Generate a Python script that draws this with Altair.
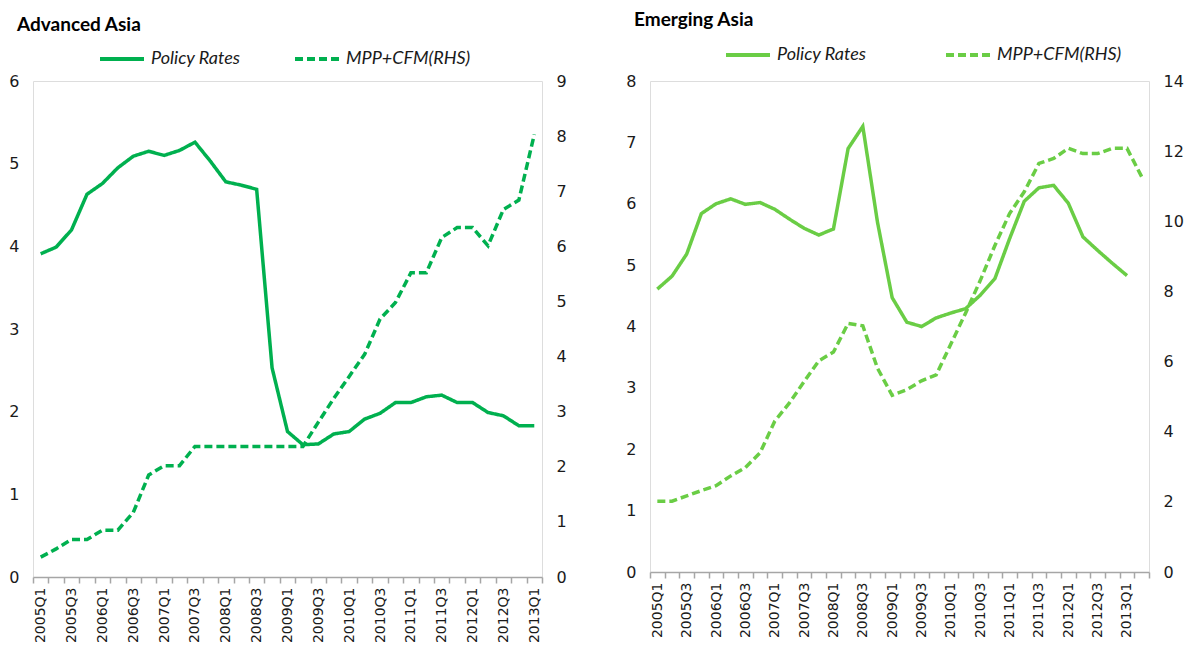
import altair as alt
import pandas as pd

# ---------------- data ----------------
quarters_adv = ["2005Q1","2005Q2","2005Q3","2005Q4","2006Q1","2006Q2","2006Q3","2006Q4",
                "2007Q1","2007Q2","2007Q3","2007Q4","2008Q1","2008Q2","2008Q3","2008Q4",
                "2009Q1","2009Q2","2009Q3","2009Q4","2010Q1","2010Q2","2010Q3","2010Q4",
                "2011Q1","2011Q2","2011Q3","2011Q4","2012Q1","2012Q2","2012Q3","2012Q4",
                "2013Q1"]
quarters_em = quarters_adv + ["2013Q2"]

adv_policy = [3.91, 3.99, 4.20, 4.63, 4.76, 4.95, 5.09, 5.15, 5.10, 5.16, 5.26, 5.03,
              4.78, 4.74, 4.69, 2.53, 1.76, 1.60, 1.61, 1.73, 1.76, 1.91, 1.98, 2.11,
              2.11, 2.18, 2.20, 2.11, 2.11, 1.99, 1.95, 1.83, 1.83]
adv_mpp = [0.36, 0.51, 0.68, 0.68, 0.85, 0.85, 1.17, 1.85, 2.02, 2.02, 2.37, 2.37,
           2.37, 2.37, 2.37, 2.37, 2.37, 2.37, 2.81, 3.24, 3.64, 4.04, 4.68, 4.98,
           5.52, 5.52, 6.16, 6.34, 6.34, 6.01, 6.67, 6.84, 8.03]

em_policy = [4.61, 4.82, 5.18, 5.84, 6.00, 6.08, 5.99, 6.02, 5.91, 5.75, 5.60, 5.49,
             5.59, 6.90, 7.26, 5.70, 4.47, 4.07, 4.00, 4.14, 4.22, 4.29, 4.51, 4.78,
             5.43, 6.04, 6.26, 6.30, 6.01, 5.46, 5.24, 5.03, 4.83]
em_mpp = [2.02, 2.02, 2.17, 2.32, 2.46, 2.74, 2.98, 3.40, 4.30, 4.82, 5.43, 6.02,
          6.27, 7.09, 7.02, 5.81, 5.04, 5.20, 5.45, 5.62, 6.50, 7.38, 8.31, 9.31,
          10.22, 10.84, 11.65, 11.79, 12.08, 11.93, 11.93, 12.08, 12.08, 11.27]

series_names = ["Policy Rates", "MPP+CFM(RHS)"]

TICK_FONT = "DejaVu Sans"
TEXT_FONT = "Lato"


def make_df(quarters, policy, mpp):
    rows = []
    for q, v in zip(quarters, policy):
        rows.append({"q": q, "series": series_names[0], "value": v})
    for q, v in zip(quarters, mpp):
        rows.append({"q": q, "series": series_names[1], "value": v})
    return pd.DataFrame(rows)


def panel(title, title_offset, quarters, policy, mpp, color, left_max, left_vals,
          right_max, right_vals, w, h, lx, ly, col_pad):
    df = make_df(quarters, policy, mpp)
    xenc = alt.X(
        "q:N", sort=quarters, bandPosition=0.5,
        scale=alt.Scale(type="band", paddingInner=0, paddingOuter=0),
        axis=alt.Axis(
            title=None, labelAngle=-90, labelFont=TICK_FONT, labelFontSize=14,
            labelColor="#1a1a1a", labelPadding=4, labelOverlap=False,
            labelExpr="(indexof(datum.label,'Q1')>=0 || indexof(datum.label,'Q3')>=0) ? datum.label : ''",
            tickBand="extent", ticks=True, tickColor="#a6a6a6", tickSize=6,
            tickWidth=1.5, domainColor="#a6a6a6", domainWidth=1.5, grid=False,
        ),
    )
    dash = alt.StrokeDash(
        "series:N",
        scale=alt.Scale(domain=series_names, range=[[1, 0], [8, 4]]),
        legend=alt.Legend(
            orient="none", legendX=lx, legendY=ly, direction="horizontal",
            title=None, symbolType="stroke", symbolSize=1936,
            symbolStrokeWidth=4, symbolStrokeColor=color,
            labelFont=TEXT_FONT, labelFontStyle="italic", labelFontSize=18,
            labelColor="#1a1a1a", labelOffset=5, columnPadding=col_pad, padding=0,
        ),
    )
    base = alt.Chart(df)
    yaxis_common = dict(title=None, domain=False, ticks=False, grid=False,
                        labelFont=TICK_FONT, labelFontSize=16,
                        labelColor="#1a1a1a", labelPadding=14)
    left = base.transform_filter(
        alt.datum.series == series_names[0]
    ).mark_line(color=color, strokeWidth=3.5, strokeCap="butt").encode(
        x=xenc,
        y=alt.Y("value:Q", scale=alt.Scale(domain=[0, left_max], nice=False),
                axis=alt.Axis(orient="left", values=left_vals, **yaxis_common)),
        strokeDash=dash,
    )
    right = base.transform_filter(
        alt.datum.series == series_names[1]
    ).mark_line(color=color, strokeWidth=3.5, strokeCap="butt").encode(
        x=xenc,
        y=alt.Y("value:Q", scale=alt.Scale(domain=[0, right_max], nice=False),
                axis=alt.Axis(orient="right", values=right_vals, **yaxis_common)),
        strokeDash=dash,
    )
    return alt.layer(left, right).resolve_scale(y="independent").properties(
        width=w, height=h,
        title=alt.TitleParams(title, anchor="start", frame="group", dx=-16,
                              font=TEXT_FONT, fontSize=19, fontWeight="bold",
                              color="#000000", offset=title_offset),
    )


adv = panel("Advanced Asia", 0, quarters_adv, adv_policy, adv_mpp, "#00B04F",
            6, [0, 1, 2, 3, 4, 5, 6], 9, [0, 1, 2, 3, 4, 5, 6, 7, 8, 9],
            509, 496, 65, -46, 46)
em = panel("Emerging Asia", 1, quarters_em, em_policy, em_mpp, "#6ACD45",
           8, [0, 1, 2, 3, 4, 5, 6, 7, 8], 14, [0, 2, 4, 6, 8, 10, 12, 14],
           499, 491, 74, -50, 71)

chart = alt.hconcat(adv, em, spacing=58).resolve_scale(
    strokeDash="independent", x="independent"
).properties(
    padding={"left": 0, "top": 2, "right": 0, "bottom": 0}
).configure_view(stroke=None).configure(background="white")

chart.save("out.html", embed_options={"renderer": "svg", "actions": False})
